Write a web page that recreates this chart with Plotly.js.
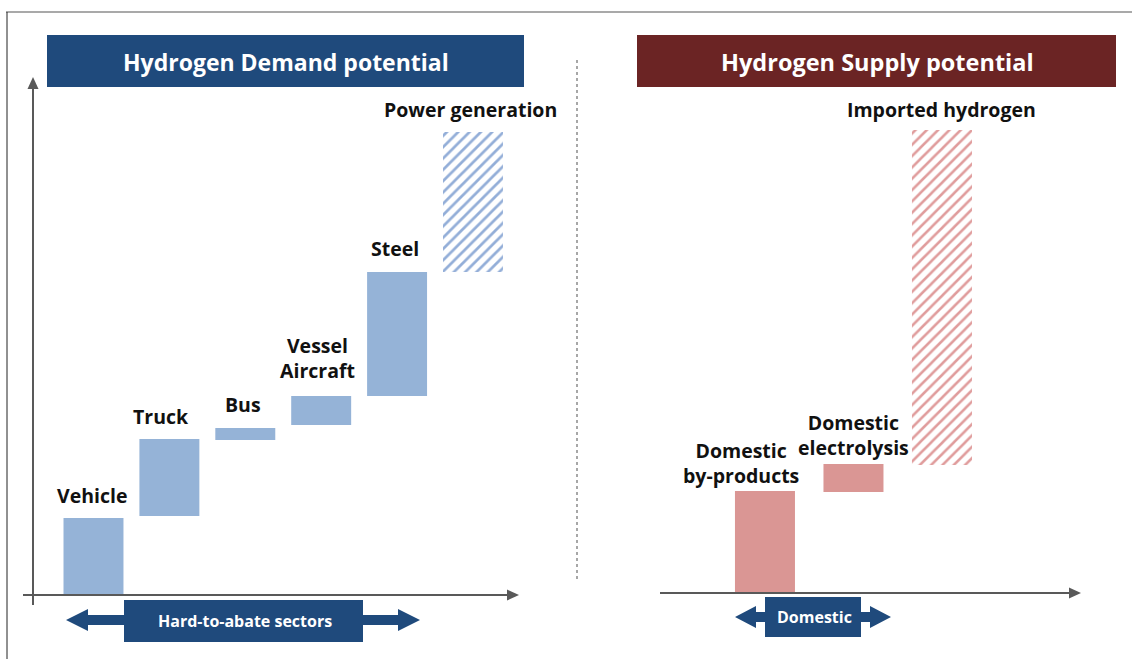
<!DOCTYPE html>
<html>
<head>
<meta charset="utf-8">
<script src="https://cdn.plot.ly/plotly-3.0.1.min.js"></script>
<style>
  html, body { margin: 0; padding: 0; background: #ffffff; }
  #chart { width: 1132px; height: 659px; }
</style>
</head>
<body>
<div id="chart"></div>
<script>
// ---- Data (arbitrary relative volume units) ----
const demandCategories = ['Vehicle', 'Truck', 'Bus', 'Vessel Aircraft', 'Steel', 'Power generation'];
const demandLabels     = ['Vehicle', 'Truck', 'Bus', 'Vessel<br>Aircraft', 'Steel', 'Power generation'];
const demandStart      = [0, 7.9, 15.5, 17.0, 19.9, 32.3];
const demandEnd        = [7.7, 15.6, 16.7, 19.9, 32.3, 46.3];
const demandPotential  = [false, false, false, false, false, true];

const supplyCategories = ['Domestic by-products', 'Domestic electrolysis', 'Imported hydrogen'];
const supplyLabels     = ['Domestic<br>by-products', 'Domestic<br>electrolysis', 'Imported hydrogen'];
const supplyStart      = [0, 10.1, 12.8];
const supplyEnd        = [10.2, 12.9, 46.3];
const supplyPotential  = [false, false, true];

const panelTitles   = ['Hydrogen Demand potential', 'Hydrogen Supply potential'];
const bracketLabels = ['Hard-to-abate sectors', 'Domestic'];

// ---- Styling ----
const W = 1132, H = 659;
const px = x => x / W;
const py = y => 1 - y / H;
const FONT = 'Open Sans, Noto Sans, DejaVu Sans, sans-serif';
const BLUE_HDR = '#1f4a7c';
const RED_HDR = '#6b2424';
const BAR_BLUE = '#95b3d7';
const BAR_PINK = '#da9694';
const AXIS = '#595959';

const demandShift = [[-1, 7], [-8, 7], [-2, 8], [-4, 10], [-2, 8], [-2, 7]];
const supplyShift = [[-24, 0], [0, 1], [0, 5]];

function pick(arr, flags, want) { return arr.filter((v, i) => flags[i] === want); }
function diff(a, b) { return a.map((v, i) => v - b[i]); }

function barTrace(cats, start, end, flags, hatched, axes, width, color, hatchColor, solidity) {
  const t = {
    type: 'bar', xaxis: axes[0], yaxis: axes[1],
    x: pick(cats, flags, hatched),
    y: diff(pick(end, flags, hatched), pick(start, flags, hatched)),
    base: pick(start, flags, hatched),
    width: width,
    hoverinfo: 'skip', showlegend: false
  };
  if (hatched) {
    t.marker = { color: '#ffffff', line: { width: 0 },
      pattern: { shape: '/', fgcolor: hatchColor, bgcolor: '#ffffff',
                 size: 8, solidity: solidity } };
  } else {
    t.marker = { color: color, line: { width: 0 } };
  }
  return t;
}

const traces = [
  barTrace(demandCategories, demandStart, demandEnd, demandPotential, false, ['x', 'y'], 0.79, BAR_BLUE),
  barTrace(demandCategories, demandStart, demandEnd, demandPotential, true, ['x', 'y'], 0.79, BAR_BLUE, '#93aed8', 0.34),
  barTrace(supplyCategories, supplyStart, supplyEnd, supplyPotential, false, ['x2', 'y2'], 0.678, BAR_PINK),
  barTrace(supplyCategories, supplyStart, supplyEnd, supplyPotential, true, ['x2', 'y2'], 0.678, BAR_PINK, '#e09c9c', 0.32)
];

const hiddenAxis = {
  showgrid: false, zeroline: false, showline: false,
  showticklabels: false, ticks: '', fixedrange: true
};

function path(points) {
  return 'M' + points.map(p => px(p[0]) + ',' + py(p[1])).join(' L') + ' Z';
}
function line(x0, y0, x1, y1, color, width, dash) {
  return { type: 'line', xref: 'paper', yref: 'paper',
    x0: px(x0), y0: py(y0), x1: px(x1), y1: py(y1),
    line: { color: color, width: width, dash: dash || 'solid' } };
}
function rect(x0, y0, x1, y1, color) {
  return { type: 'rect', xref: 'paper', yref: 'paper',
    x0: px(x0), y0: py(y0), x1: px(x1), y1: py(y1),
    fillcolor: color, line: { width: 0 }, layer: 'above' };
}
function poly(points, color) {
  return { type: 'path', xref: 'paper', yref: 'paper', path: path(points),
    fillcolor: color, line: { width: 0 }, layer: 'above' };
}

const shapes = [
  // frame
  line(6, 12, 1132, 12, '#8c8c8c', 1.5),
  line(7, 12, 7, 659, '#222222', 1),
  // headers
  rect(47, 35, 524, 87, BLUE_HDR),
  rect(637, 35, 1116, 87, RED_HDR),
  // left axes
  line(33, 605, 33, 86, AXIS, 2),
  poly([[33, 77], [38.5, 89], [27.5, 89]], AXIS),
  line(23, 595, 508, 595, AXIS, 2),
  poly([[519, 595], [507, 589.5], [507, 600.5]], AXIS),
  // right axis
  line(660, 593, 1070, 593, AXIS, 2),
  poly([[1081, 593], [1069, 587.5], [1069, 598.5]], AXIS),
  // divider
  line(577, 60, 577, 580, '#8a8a8a', 1.5, 'dot'),
  // bottom brackets
  poly([[66, 620], [88, 609], [88, 615], [398, 615], [398, 609], [420, 620],
        [398, 631], [398, 625], [88, 625], [88, 631]], BLUE_HDR),
  rect(124, 600, 363, 642, BLUE_HDR),
  poly([[735, 617], [756, 606], [756, 612], [870, 612], [870, 606], [891, 617],
        [870, 628], [870, 622], [756, 622], [756, 628]], BLUE_HDR),
  rect(765, 597, 861, 637, BLUE_HDR)
];

const LABEL_SIZE = 19.5;
const annotations = [];
demandCategories.forEach((c, i) => {
  annotations.push({ xref: 'x', yref: 'y', x: c, y: demandEnd[i],
    text: demandLabels[i], showarrow: false, yanchor: 'bottom', xanchor: 'center',
    xshift: demandShift[i][0], yshift: demandShift[i][1],
    font: { family: FONT, size: LABEL_SIZE, color: '#111111', weight: 700 } });
});
supplyCategories.forEach((c, i) => {
  annotations.push({ xref: 'x2', yref: 'y2', x: c, y: supplyEnd[i],
    text: supplyLabels[i], showarrow: false, yanchor: 'bottom', xanchor: 'center',
    xshift: supplyShift[i][0], yshift: supplyShift[i][1],
    font: { family: FONT, size: LABEL_SIZE, color: '#111111', weight: 700 } });
});
function centerText(x, y, text, size) {
  return { xref: 'paper', yref: 'paper', x: px(x), y: py(y), text: text,
    xanchor: 'center', yanchor: 'middle', showarrow: false,
    font: { family: FONT, size: size, color: '#ffffff', weight: 700 } };
}
annotations.push(
  centerText(286, 62, panelTitles[0], 23),
  centerText(877, 62, panelTitles[1], 23.5),
  centerText(245, 621, bracketLabels[0], 16),
  centerText(814, 617, bracketLabels[1], 16)
);

const layout = {
  width: W, height: H,
  margin: { l: 0, r: 0, t: 0, b: 0, pad: 0 },
  paper_bgcolor: '#ffffff', plot_bgcolor: 'rgba(0,0,0,0)',
  showlegend: false,
  barmode: 'overlay',
  xaxis: Object.assign({}, hiddenAxis, { type: 'category', anchor: 'y',
    domain: [px(33), px(517)], range: [-0.797, 5.58],
    categoryorder: 'array', categoryarray: demandCategories }),
  yaxis: Object.assign({}, hiddenAxis, { anchor: 'x',
    domain: [py(595), py(82)], range: [0, 51.3] }),
  xaxis2: Object.assign({}, hiddenAxis, { type: 'category', anchor: 'y2',
    domain: [px(660), px(1078)], range: [-1.186, 3.537],
    categoryorder: 'array', categoryarray: supplyCategories }),
  yaxis2: Object.assign({}, hiddenAxis, { anchor: 'x2',
    domain: [py(593), py(80)], range: [0, 51.3] }),
  shapes: shapes,
  annotations: annotations
};

Plotly.newPlot('chart', traces, layout, { staticPlot: true, displayModeBar: false });
</script>
</body>
</html>
